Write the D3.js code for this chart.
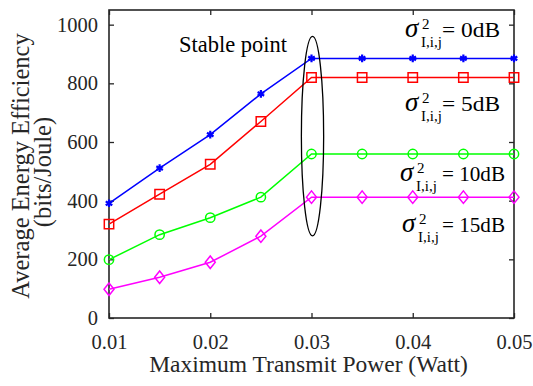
<!DOCTYPE html>
<html>
<head>
<meta charset="utf-8">
<script src="https://cdn.jsdelivr.net/npm/d3@7"></script>
<style>
  html, body { margin: 0; padding: 0; background: #fff; }
  svg { display: block; }
</style>
</head>
<body>
<svg id="chart" width="533" height="386"></svg>
<script>
// ---- data ----
const power = [0.01, 0.015, 0.02, 0.025, 0.03, 0.035, 0.04, 0.045, 0.05];
const ee0dB  = [391, 511, 625, 764, 885, 885, 885, 885, 885];
const ee5dB  = [320, 422, 524, 670, 820, 820, 820, 820, 820];
const ee10dB = [199, 284, 342, 412, 559, 559, 559, 559, 559];
const ee15dB = [98, 139, 190, 279, 412, 412, 412, 412, 412];
const seriesNames = ["0dB", "5dB", "10dB", "15dB"];
const xTicks = [0.01, 0.02, 0.03, 0.04, 0.05];
const xTickLabels = ["0.01", "0.02", "0.03", "0.04", "0.05"];
const yTicks = [0, 200, 400, 600, 800, 1000];
const yTickLabels = ["0", "200", "400", "600", "800", "1000"];

const series = [
  { name: seriesNames[0], values: ee0dB,  color: "#0000ff", marker: "asterisk" },
  { name: seriesNames[1], values: ee5dB,  color: "#ff0000", marker: "square" },
  { name: seriesNames[2], values: ee10dB, color: "#00ff00", marker: "circle" },
  { name: seriesNames[3], values: ee15dB, color: "#ff00ff", marker: "diamond" }
];

const FONT = "Liberation Serif";
const svg = d3.select("#chart");
const L = 109, R = 514, T = 10, B = 318;
const x = d3.scaleLinear().domain([0.01, 0.05]).range([L, R]);
const y = d3.scaleLinear().domain([0, 1050]).range([B, T]);

function txt(parent, opts) {
  const t = parent.append("text")
    .style("font-family", FONT)
    .style("font-size", (opts.size || 20) + "px")
    .style("fill", opts.fill || "#262626")
    .attr("x", opts.x).attr("y", opts.y)
    .text(opts.text);
  if (opts.italic) t.style("font-style", "italic");
  if (opts.anchor) t.attr("text-anchor", opts.anchor);
  if (opts.len) t.attr("textLength", opts.len).attr("lengthAdjust", "spacingAndGlyphs");
  return t;
}

// axes (inward ticks on all four sides)
const axisColor = "#262626";
const gB = svg.append("g").attr("transform", `translate(0,${B})`)
  .call(d3.axisBottom(x).tickValues(xTicks).tickFormat((d, i) => xTickLabels[i]).tickSizeInner(-5).tickSizeOuter(0).tickPadding(16));
const gT = svg.append("g").attr("transform", `translate(0,${T})`)
  .call(d3.axisTop(x).tickValues(xTicks).tickFormat("").tickSizeInner(-5).tickSizeOuter(0));
const gL = svg.append("g").attr("transform", `translate(${L},0)`)
  .call(d3.axisLeft(y).tickValues(yTicks).tickFormat((d, i) => yTickLabels[i]).tickSizeInner(-5).tickSizeOuter(0).tickPadding(11));
const gR = svg.append("g").attr("transform", `translate(${R},0)`)
  .call(d3.axisRight(y).tickValues(yTicks).tickFormat("").tickSizeInner(-5).tickSizeOuter(0));
[gB, gT, gL, gR].forEach(g => {
  g.attr("font-family", null).attr("font-size", null);
  g.select(".domain").remove();
  g.selectAll(".tick line").attr("stroke", axisColor).attr("stroke-width", 1.3);
  g.selectAll(".tick text").attr("fill", axisColor)
    .style("font-family", FONT).style("font-size", "20.5px");
});

// frame
svg.append("rect").attr("x", L).attr("y", T).attr("width", R - L).attr("height", B - T)
  .attr("fill", "none").attr("stroke", axisColor).attr("stroke-width", 1.6);

// custom flatter diamond (MATLAB-like)
const flatDiamond = {
  draw(ctx, size) {
    const w = Math.sqrt(size / 2.4);   // half width
    const h = w * 1.25;                // half height
    ctx.moveTo(0, -h); ctx.lineTo(w, 0); ctx.lineTo(0, h); ctx.lineTo(-w, 0); ctx.closePath();
  }
};

// lines + markers
const line = d3.line().x((d, i) => x(power[i])).y(d => y(d));
const markerGen = {
  asterisk: d3.symbol().type(d3.symbolAsterisk).size(40),
  square: d3.symbol().type(d3.symbolSquare).size(88),
  circle: d3.symbol().type(d3.symbolCircle).size(68),
  diamond: d3.symbol().type(flatDiamond).size(60)
};
series.forEach(s => {
  svg.append("path").datum(s.values).attr("d", line)
    .attr("fill", "none").attr("stroke", s.color).attr("stroke-width", 1.5);
  svg.append("g").selectAll("path").data(s.values).join("path")
    .attr("transform", (d, i) => `translate(${x(power[i])},${y(d)})`)
    .attr("d", markerGen[s.marker]())
    .attr("fill", s.marker === "asterisk" ? s.color : "none")
    .attr("stroke", s.color)
    .attr("stroke-width", s.marker === "asterisk" ? 2.2 : 1.5);
});

// stable point ellipse
svg.append("ellipse")
  .attr("cx", x(0.0301)).attr("cy", y(620))
  .attr("rx", x(0.0312) - x(0.0301)).attr("ry", y(280) - y(620))
  .attr("fill", "none").attr("stroke", "#000").attr("stroke-width", 1.3);

txt(svg, { x: 179, y: 52, size: 22.5, fill: "#000", text: "Stable point" });

// sigma labels: [sigma x, baseline y]; "=" part starts at a common x
const labelPos = [[405, 37], [405, 111], [400, 181], [402, 232]];
const eqX = 442;
series.forEach((s, i) => {
  const [lx, ly] = labelPos[i];
  txt(svg, { x: lx, y: ly, size: 27, italic: true, fill: "#000", text: "σ" });
  txt(svg, { x: lx + 17, y: ly - 8, size: 15, fill: "#000", text: "2" });
  txt(svg, { x: lx + 16, y: ly + 10, size: 15, fill: "#000", text: "I,i,j" });
  txt(svg, { x: eqX, y: ly, size: 21.5, fill: "#000", text: "= " + s.name,
             len: s.name.length === 3 ? 58 : 63 });
});

// axis titles
txt(svg, { x: (L + R) / 2 - 3, y: 372, size: 23.5, anchor: "middle", text: "Maximum Transmit Power (Watt)" });
txt(svg, { x: 0, y: 0, size: 24.5, anchor: "middle", text: "Average Energy Efficiency" })
  .attr("transform", "translate(29,166) rotate(-90)");
txt(svg, { x: 0, y: 0, size: 24.5, anchor: "middle", text: "(bits/Joule)" })
  .attr("transform", "translate(51,172) rotate(-90)");
</script>
</body>
</html>
